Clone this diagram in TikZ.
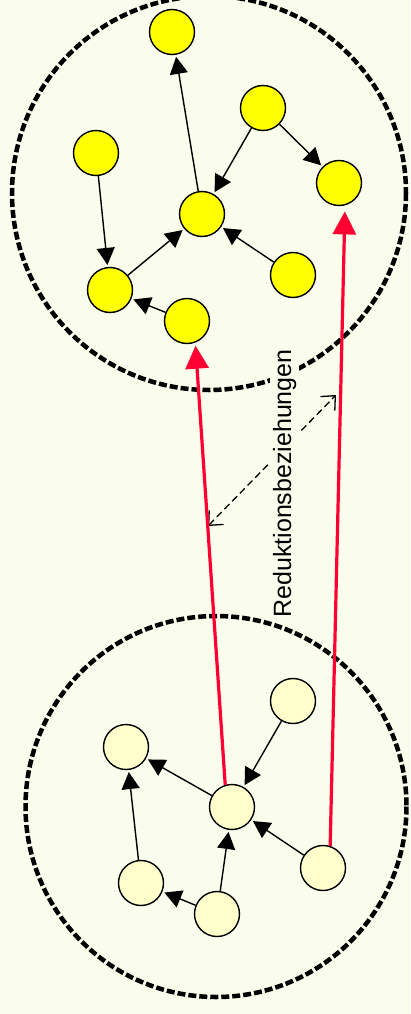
\documentclass[tikz,border=0pt]{standalone}
\usepackage{fontspec}
\setmainfont{Liberation Sans}
\usepackage{xcolor}
\definecolor{bgpaper}{RGB}{250,252,236}
\definecolor{vivid}{RGB}{255,255,0}
\definecolor{pale}{RGB}{255,255,204}
\definecolor{redline}{RGB}{255,0,51}
\usepackage{tikz}
\usetikzlibrary{arrows.meta, positioning}
\tikzset{
  topnode/.style={circle, draw=black, fill=vivid, line width=1.4pt,
    minimum size=45pt, inner sep=0pt},
  botnode/.style={circle, draw=black, fill=pale, line width=1.4pt,
    minimum size=45pt, inner sep=0pt},
  setcircle/.style={draw=black, line width=4.5pt,
    dash pattern=on 8pt off 3pt},
  edgearrow/.style={-{Triangle[length=17pt, width=18pt]}, line width=1.4pt,
    shorten >=2pt},
  redarrow/.style={-{Triangle[length=23pt, width=23pt]}, line width=3.2pt,
    color=redline},
  relarrow/.style={{Straight Barb[length=11pt, width=20pt]}-{Straight Barb[length=11pt, width=20pt]},
    line width=1.3pt, dash pattern=on 7pt off 4pt},
  relabel/.style={font=\fontsize{25}{30}\selectfont, fill=bgpaper,
    inner sep=3pt, rotate=90, anchor=base}
}

\begin{document}
\begin{tikzpicture}[x=1pt, y=-1pt]

  \fill[bgpaper] (0,0) rectangle (410,1014);
  \useasboundingbox (0,0) rectangle (410,1014);

  % the two sets
  \draw[setcircle] (209,193) circle (197);
  \draw[setcircle] (216,806.5) circle (190.5);

  % upper graph
  \node[topnode] (ua) at (172,32)  {};
  \node[topnode] (ub) at (263,108) {};
  \node[topnode] (uc) at (96,153)  {};
  \node[topnode] (ud) at (339,183) {};
  \node[topnode] (ue) at (202,214) {};
  \node[topnode] (uf) at (293,275) {};
  \node[topnode] (ug) at (110,290) {};
  \node[topnode] (uh) at (187,321) {};

  \draw[edgearrow] (ue) -- (ua);
  \draw[edgearrow] (ub) -- (ue);
  \draw[edgearrow] (ub) -- (ud);
  \draw[edgearrow] (uc) -- (ug);
  \draw[edgearrow] (ug) -- (ue);
  \draw[edgearrow] (uf) -- (ue);
  \draw[edgearrow] (uh) -- (ug);

  % lower graph
  \node[botnode] (la) at (293,701) {};
  \node[botnode] (lb) at (126,747) {};
  \node[botnode] (lc) at (232,807) {};
  \node[botnode] (ld) at (323,868) {};
  \node[botnode] (le) at (141,883) {};
  \node[botnode] (lf) at (217,914) {};

  \draw[edgearrow] (la) -- (lc);
  \draw[edgearrow] (lc) -- (lb);
  \draw[edgearrow] (le) -- (lb);
  \draw[edgearrow] (lf) -- (le);
  \draw[edgearrow] (lf) -- (lc);
  \draw[edgearrow] (ld) -- (lc);

  % reduction relation
  \coordinate (rellow)  at (208,526);
  \coordinate (relhigh) at (336,395);
  \draw[relarrow] (rellow) -- (relhigh);
  \node[relabel] (reltext) at (291,483.5) {Reduktionsbeziehungen};

  \draw[redarrow, shorten >=3pt] (lc.107) -- (uh.-69);
  \draw[redarrow, shorten >=6pt] (ld.72) -- (ud.-75);

\end{tikzpicture}
\end{document}
